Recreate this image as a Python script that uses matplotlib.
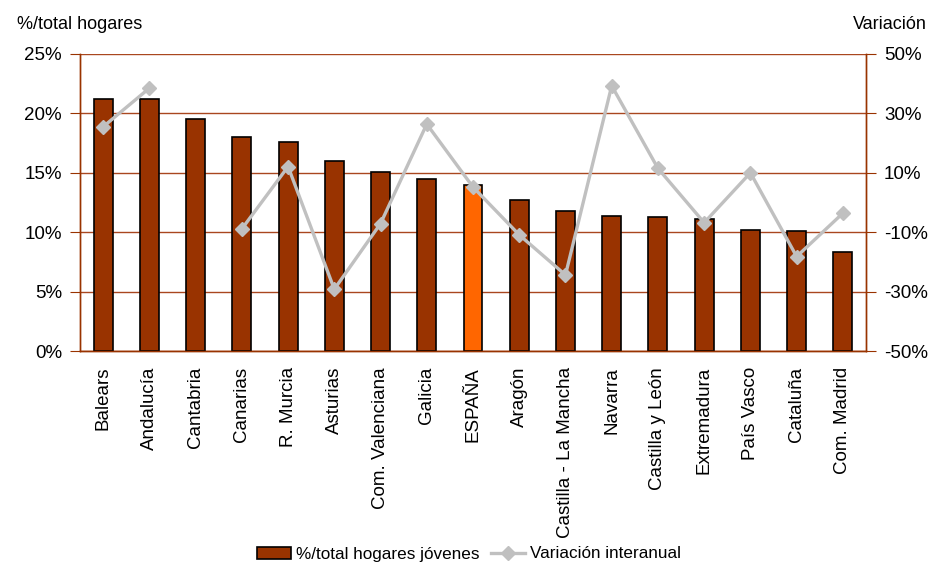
import numpy as np
import matplotlib
matplotlib.use("Agg")
import matplotlib.pyplot as plt
from matplotlib.ticker import FuncFormatter

plt.rcParams["font.family"] = ["Liberation Sans", "DejaVu Sans"]
fs = 13

regiones = ["Balears", "Andalucía", "Cantabria", "Canarias", "R. Murcia", "Asturias",
            "Com. Valenciana", "Galicia", "ESPAÑA", "Aragón", "Castilla - La Mancha",
            "Navarra", "Castilla y León", "Extremadura", "País Vasco", "Cataluña",
            "Com. Madrid"]
pct_hogares = [21.2, 21.2, 19.5, 18.0, 17.6, 16.0, 15.1, 14.5, 14.0, 12.7, 11.8,
               11.4, 11.25, 11.1, 10.2, 10.1, 8.3]
variacion = [25.5, 38.5, np.nan, -8.9, 12.1, -29.2, -7.1, 26.4, 5.2, -10.9, -24.4,
             39.3, 11.5, -6.8, 10.0, -18.2, -3.6]

brown = "#993300"
grid_c = "#A9471F"

fig = plt.figure(figsize=(9.3, 5.63), dpi=100)
ax = fig.add_axes([80 / 930, 1 - 351 / 563, 786 / 930, 297 / 563])
ax2 = ax.twinx()

x = np.arange(len(regiones))
colors = ["#FF6600" if r == "ESPAÑA" else brown for r in regiones]
ax.bar(x, pct_hogares, width=0.41, color=colors, edgecolor="black", linewidth=1.2,
       zorder=3, label="%/total hogares jóvenes")

ax2.plot(x, variacion, color="#C0C0C0", lw=2.4, marker="D", markersize=7,
         label="Variación interanual", zorder=4)

ax.set_xlim(-0.5, len(regiones) - 0.5)
ax.set_ylim(0, 25)
ax.set_yticks([0, 5, 10, 15, 20, 25])
ax.yaxis.set_major_formatter(FuncFormatter(lambda v, p: f"{v:.0f}%"))
ax2.set_ylim(-50, 50)
ax2.set_yticks([-50, -30, -10, 10, 30, 50])
ax2.yaxis.set_major_formatter(FuncFormatter(lambda v, p: f"{v:.0f}%"))

ax.grid(axis="y", color=grid_c, lw=1, zorder=0)
ax.set_axisbelow(True)

for a in (ax, ax2):
    a.spines["top"].set_visible(False)
    for s in ("left", "right", "bottom"):
        a.spines[s].set_color(brown)
        a.spines[s].set_linewidth(1)

ax.set_xticks(x)
ax.set_xticklabels(regiones, rotation=90, fontsize=13.5)
ax.tick_params(axis="x", length=0, pad=11.5)
ax.tick_params(axis="y", length=7, color=brown, labelsize=13.5, pad=6)
ax2.tick_params(axis="y", length=7, color=brown, labelsize=13.5, pad=6)

fig.text(17 / 930, 1 - 29 / 563, "%/total hogares", fontsize=fs, ha="left", va="baseline")
fig.text(927 / 930, 1 - 29 / 563, "Variación", fontsize=fs, ha="right", va="baseline")

h1, l1 = ax.get_legend_handles_labels()
h2, l2 = ax2.get_legend_handles_labels()
fig.legend(h1 + h2, l1 + l2, loc="center", bbox_to_anchor=(469 / 930, 1 - 554 / 563),
           ncol=2, frameon=False, fontsize=12.3, handlelength=2.0, handletextpad=0.3,
           columnspacing=0.65, borderaxespad=0, borderpad=0)

fig.savefig("out.png", dpi=100)
